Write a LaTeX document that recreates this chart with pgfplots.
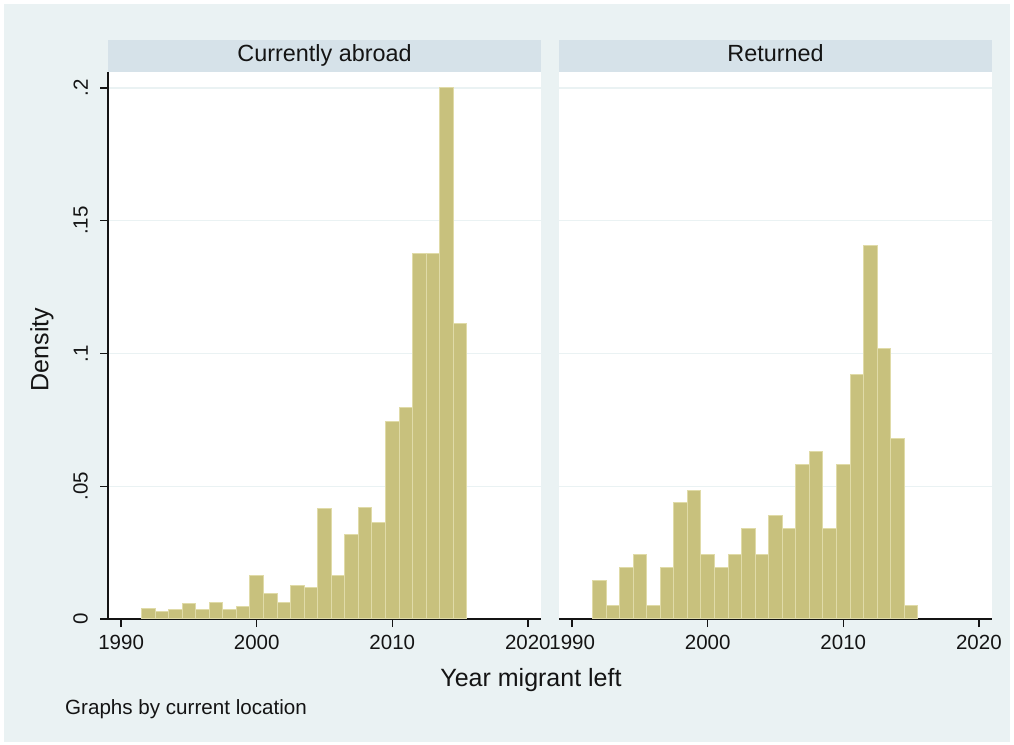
\documentclass[border=0pt]{standalone}
\usepackage{pgfplots}
\pgfplotsset{compat=1.18}
\usepackage{fontspec}
\setmainfont{Liberation Sans}

\definecolor{bgcol}{RGB}{234,242,243}
\definecolor{stripcol}{RGB}{214,226,233}
\definecolor{barfill}{RGB}{200,193,125}
\definecolor{baredge}{RGB}{224,219,168}
\definecolor{gridcol}{RGB}{234,242,243}
\definecolor{axcol}{RGB}{20,20,20}

% density by year (bin centres)
\pgfplotstableread{
year dens
1992 0.0041
1993 0.0030
1994 0.0035
1995 0.0058
1996 0.0035
1997 0.0064
1998 0.0035
1999 0.0046
2000 0.0165
2001 0.0095
2002 0.0064
2003 0.0127
2004 0.0117
2005 0.0416
2006 0.0165
2007 0.0320
2008 0.0421
2009 0.0362
2010 0.0742
2011 0.0795
2012 0.1376
2013 0.1376
2014 0.2003
2015 0.1114
}\abroad

\pgfplotstableread{
year dens
1992 0.0146
1993 0.0049
1994 0.0194
1995 0.0243
1996 0.0049
1997 0.0194
1998 0.0437
1999 0.0485
2000 0.0243
2001 0.0194
2002 0.0243
2003 0.0340
2004 0.0243
2005 0.0388
2006 0.0340
2007 0.0583
2008 0.0631
2009 0.0340
2010 0.0583
2011 0.0922
2012 0.1408
2013 0.1019
2014 0.0680
2015 0.0049
}\returned

\pgfplotsset{
  panel/.style={
    scale only axis, width=433pt, height=547pt,
    anchor=south west,
    xmin=1989.03, xmax=2020.97, ymin=0, ymax=0.206,
    axis x line*=bottom, axis y line*=left,
    axis line style={line width=1.4pt, axcol},
    tick align=outside, major tick length=8pt,
    tick style={line width=1.4pt, axcol},
    xtick={1990,2000,2010,2020},
    ytick={0,0.05,0.1,0.15,0.2},
    yticklabels={0,.05,.1,.15,.2},
    ymajorgrids, grid style={line width=1.4pt, gridcol},
    axis background/.style={fill=white},
    /pgf/number format/assume math mode=true,
    /pgf/number format/1000 sep={},
    ticklabel style={font=\fontsize{20.5}{24}\selectfont, text=axcol},
    xticklabel style={yshift=-5pt},
    yticklabel style={rotate=90, anchor=south, inner sep=12pt},
  },
  hist/.style={ybar, bar width=1, fill=barfill, draw=baredge, line width=1pt},
}

\begin{document}
\begin{tikzpicture}[x=1pt, y=1pt]
\fill[white] (0,0) rectangle (1014,744);
\fill[bgcol] (4,2) rectangle (1010,740);
\useasboundingbox (0,0) rectangle (1014,744);

\begin{axis}[panel, at={(108pt,125pt)}]
  \addplot[hist] table[x=year, y=dens] {\abroad};
\end{axis}

\begin{axis}[panel, at={(559pt,125pt)},
    yticklabels={}, y axis line style={draw=none},
    ytick style={draw=none}]
  \addplot[hist] table[x=year, y=dens] {\returned};
\end{axis}

% strip headers
\fill[stripcol] (108,672) rectangle (541,704);
\fill[stripcol] (559,672) rectangle (992,704);
\node[anchor=base, font=\fontsize{23.4}{28}\selectfont, text=axcol] at (324.5,682) {Currently abroad};
\node[anchor=base, font=\fontsize{23.4}{28}\selectfont, text=axcol] at (775.5,682) {Returned};

% titles and note
\node[rotate=90, font=\fontsize{25}{30}\selectfont, text=axcol] at (42,394.5) {Density};
\node[anchor=base, font=\fontsize{25}{30}\selectfont, text=axcol] at (531,58) {Year migrant left};
\node[anchor=base west, inner sep=0pt, font=\fontsize{20.6}{24}\selectfont, text=axcol] at (65,30) {Graphs by current location};
\end{tikzpicture}
\end{document}
